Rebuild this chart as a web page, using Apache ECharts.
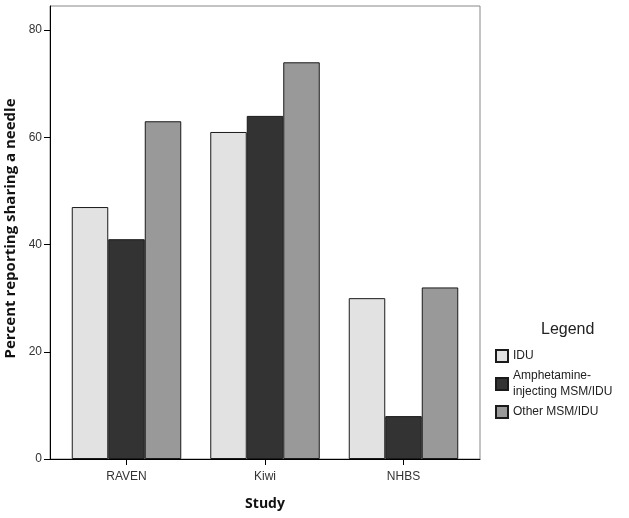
<!DOCTYPE html>
<html>
<head>
<meta charset="utf-8">
<script src="https://cdn.jsdelivr.net/npm/echarts@6/dist/echarts.min.js"></script>
</head>
<body style="margin:0;background:#fff">

<div id="main" style="width: 629px;height:518px;"></div>

<script type="text/javascript">
    // data
    var studies = ['RAVEN', 'Kiwi', 'NHBS'];
    var idu = [47, 61, 30];
    var amphetamine = [41, 64, 8];
    var otherMsm = [63, 74, 32];
    var yTicks = [0, 20, 40, 60, 80];

    var font = 'Liberation Sans, Arial, sans-serif';
    var boldFont = 'Open Sans, DejaVu Sans, sans-serif';
    var myChart = echarts.init(document.getElementById('main'));

    var barStyle = function (color) {
        return { color: color, borderColor: '#1a1a1a', borderWidth: 1 };
    };

    var option = {
        animation: false,
        backgroundColor: '#fff',
        textStyle: { fontFamily: font },
        title: {
            text: 'Legend',
            left: 541, top: 322, padding: 0,
            textStyle: { fontSize: 16, fontWeight: 'normal', color: '#222', fontFamily: font }
        },
        legend: {
            orient: 'vertical',
            left: 495, top: 348, padding: 0,
            itemWidth: 12, itemHeight: 12,
            itemGap: 4,
            icon: 'rect',
            data: ['IDU', 'Amphetamine-injecting MSM/IDU', 'Other MSM/IDU'],
            formatter: function (name) {
                return name.replace('Amphetamine-', 'Amphetamine-\n');
            },
            textStyle: { fontSize: 12, color: '#222', fontFamily: font, lineHeight: 16 }
        },
        grid: [
            { left: 50, top: 6, width: 430, height: 453, outerBoundsMode: 'none', show: true, borderColor: '#888', borderWidth: 1 },
            { left: 57.25, top: 6, width: 415.5, height: 453, outerBoundsMode: 'none' }
        ],
        xAxis: [
            {
                gridIndex: 0, type: 'value', min: 0, max: 1,
                axisLine: { show: true, lineStyle: { color: '#000', width: 1 } },
                axisTick: { show: false }, axisLabel: { show: false }, splitLine: { show: false },
                name: 'Study', nameLocation: 'middle', nameGap: 38,
                nameTextStyle: { fontSize: 14, fontWeight: 'bold', color: '#111', fontFamily: boldFont }
            },
            {
                gridIndex: 1, type: 'category', data: studies,
                axisLine: { show: false },
                axisTick: { show: true, alignWithLabel: true, length: 6, lineStyle: { color: '#000' } },
                axisLabel: { fontSize: 12, color: '#333', margin: 12, fontFamily: font }
            }
        ],
        yAxis: [
            {
                gridIndex: 0, type: 'value', min: 0, max: 84.5,
                axisLine: { show: true, lineStyle: { color: '#000', width: 1 } },
                axisTick: { show: true, length: 6, customValues: yTicks, lineStyle: { color: '#000' } },
                axisLabel: { fontSize: 12, color: '#333', margin: 8, customValues: yTicks, fontFamily: font },
                splitLine: { show: false },
                name: 'Percent reporting sharing a needle', nameLocation: 'middle', nameGap: 30,
                nameTextStyle: { fontSize: 15, fontWeight: 'bold', color: '#111', fontFamily: boldFont, padding: [0, 0, 0, 8] }
            },
            {
                gridIndex: 1, type: 'value', min: 0, max: 84.5, show: false
            }
        ],
        series: [
            {
                name: 'IDU', type: 'bar', xAxisIndex: 1, yAxisIndex: 1,
                data: idu, barWidth: 36.5, barGap: '0%', itemStyle: barStyle('#e2e2e2')
            },
            {
                name: 'Amphetamine-injecting MSM/IDU', type: 'bar', xAxisIndex: 1, yAxisIndex: 1,
                data: amphetamine, barWidth: 36.5, barGap: '0%', itemStyle: barStyle('#333333')
            },
            {
                name: 'Other MSM/IDU', type: 'bar', xAxisIndex: 1, yAxisIndex: 1,
                data: otherMsm, barWidth: 36.5, barGap: '0%', itemStyle: barStyle('#999999')
            }
        ]
    };

    myChart.setOption(option);
</script>

</body>
</html>
